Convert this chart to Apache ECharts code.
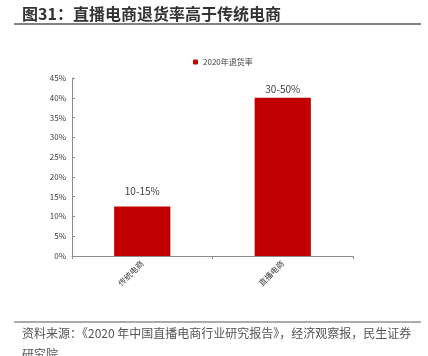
<!DOCTYPE html>
<html><head><meta charset="utf-8">
<script src="https://cdn.jsdelivr.net/npm/echarts@6/dist/echarts.min.js"></script>
<style>html,body{margin:0;padding:0;background:#fff}#c{width:428px;height:356px}</style>
</head><body><div id="c"></div>
<script>
const categories = ['传统电商', '直播电商'];
const returnRate = [12.5, 40];
const barLabels = ['10-15%', '30-50%'];
const yTicks = [0, 5, 10, 15, 20, 25, 30, 35, 40, 45];
const seriesName = '2020年退货率';
const titleText = '图31：直播电商退货率高于传统电商';
const sourceText = '资料来源：《2020 年中国直播电商行业研究报告》，经济观察报，民生证券';
const sourceText2 = '研究院';
const labelGap = [10, 4];

const font = '"Noto Sans CJK SC", "Noto Sans", sans-serif';
const chart = echarts.init(document.getElementById('c'));
chart.setOption({
  animation: false,
  textStyle: { fontFamily: font },
  legend: {
    data: [seriesName], top: 53, left: 188,
    itemWidth: 5, itemHeight: 5, itemGap: 4,
    textStyle: { fontSize: 8, color: '#404040', fontFamily: font }
  },
  grid: { left: 72, right: 75, top: 78, bottom: 100, containLabel: false },
  xAxis: {
    type: 'category', data: categories,
    axisLine: { lineStyle: { color: '#8c8c8c', width: 1 } },
    axisTick: { show: true, alignWithLabel: false, length: 3, lineStyle: { color: '#8c8c8c' } },
    axisLabel: { rotate: 45, fontSize: 8, color: '#404040', margin: 6, fontFamily: font }
  },
  yAxis: {
    type: 'value', min: 0, max: 45, interval: 5,
    axisLine: { show: true, lineStyle: { color: '#8c8c8c', width: 1 } },
    axisTick: { show: true, length: 3, inside: true, lineStyle: { color: '#8c8c8c' } },
    splitLine: { show: false },
    axisLabel: { fontSize: 8, color: '#404040', margin: 6, fontFamily: font,
      formatter: v => yTicks.includes(v) ? v + '%' : '' }
  },
  series: [{
    name: seriesName, type: 'bar', barWidth: '40%',
    data: returnRate.map((v, i) => ({ value: v, label: { distance: labelGap[i] } })),
    itemStyle: { color: '#c00000' },
    label: { show: true, position: 'top', fontSize: 10, color: '#404040',
      fontFamily: font, formatter: p => barLabels[p.dataIndex] }
  }],
  graphic: [
    { type: 'text', left: 22, top: 6, style: { text: titleText, font: 'bold 16px ' + font, fill: '#333333' } },
    { type: 'line', shape: { x1: 14, y1: 24, x2: 421, y2: 24 }, style: { stroke: '#595959', lineWidth: 1.5 } },
    { type: 'line', shape: { x1: 14, y1: 322, x2: 421, y2: 322 }, style: { stroke: '#595959', lineWidth: 1 } },
    { type: 'text', left: 22, top: 327, style: { text: sourceText, font: '12px ' + font, fill: '#555555' } },
    { type: 'text', left: 22, top: 348, style: { text: sourceText2, font: '12px ' + font, fill: '#555555' } }
  ]
});
</script></body></html>
